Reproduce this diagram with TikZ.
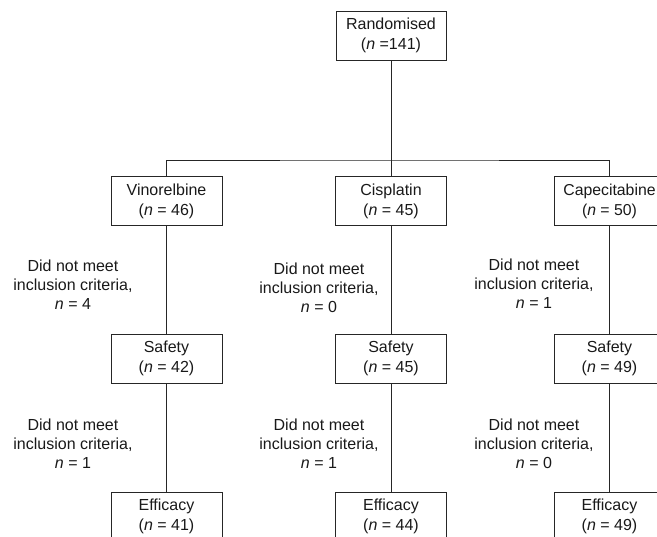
\documentclass[tikz,border=0pt]{standalone}
\usepackage{fontspec}
\setmainfont{Liberation Sans}
\begin{document}
\begin{tikzpicture}[x=1pt,y=-1pt,
  box/.style={draw=black!85, line width=0.9pt, minimum width=111pt, minimum height=49pt, inner sep=0pt, align=center, font=\fontsize{16}{20}\selectfont, text=black!90},
  lbl/.style={align=center, inner sep=0pt, font=\fontsize{16}{19}\selectfont, text=black!90},
  conn/.style={draw=black!85, line width=0.9pt}]
\useasboundingbox (0,0) rectangle (657,537);
\clip (0,0) rectangle (657,537);
\node[box, minimum width=110pt] (rand) at (391,35.5) {Randomised\\(\textit{n} =141)};
\node[box] (vin) at (166.5,201) {Vinorelbine\\(\textit{n} = 46)};
\node[box] (cis) at (391,201) {Cisplatin\\(\textit{n} = 45)};
\node[box, font=\fontsize{15.8}{20}\selectfont] (cap) at (609.5,201) {Capecitabine\\(\textit{n} = 50)};
\node[box] (vsaf) at (166.5,358.5) {Safety\\(\textit{n} = 42)};
\node[box] (csaf) at (391,358.5) {Safety\\(\textit{n} = 45)};
\node[box] (psaf) at (609.5,358.5) {Safety\\(\textit{n} = 49)};
\node[box] (veff) at (166.5,516.5) {Efficacy\\(\textit{n} = 41)};
\node[box] (ceff) at (391,516.5) {Efficacy\\(\textit{n} = 44)};
\node[box] (peff) at (609.5,516.5) {Efficacy\\(\textit{n} = 49)};
\coordinate (bar) at (391,160);
\draw[conn] (rand.south) -- (bar);
\draw[conn] (vin.north) |- (bar) -| (cap.north);
\draw[conn] (bar) -- (cis.north);
\draw[conn] (vin) -- (vsaf);
\draw[conn] (cis) -- (csaf);
\draw[conn] (cap) -- (psaf);
\draw[conn] (vsaf) -- (veff);
\draw[conn] (csaf) -- (ceff);
\draw[conn] (psaf) -- (peff);
\node[lbl] (l1) at (73,285) {Did not meet\\inclusion criteria,\\\textit{n} = 4};
\node[lbl] (l2) at (319,288) {Did not meet\\inclusion criteria,\\\textit{n} = 0};
\node[lbl] (l3) at (534,284) {Did not meet\\inclusion criteria,\\\textit{n} = 1};
\node[lbl] (l4) at (73,444) {Did not meet\\inclusion criteria,\\\textit{n} = 1};
\node[lbl] (l5) at (319,444) {Did not meet\\inclusion criteria,\\\textit{n} = 1};
\node[lbl] (l6) at (534,444) {Did not meet\\inclusion criteria,\\\textit{n} = 0};
\end{tikzpicture}
\end{document}
